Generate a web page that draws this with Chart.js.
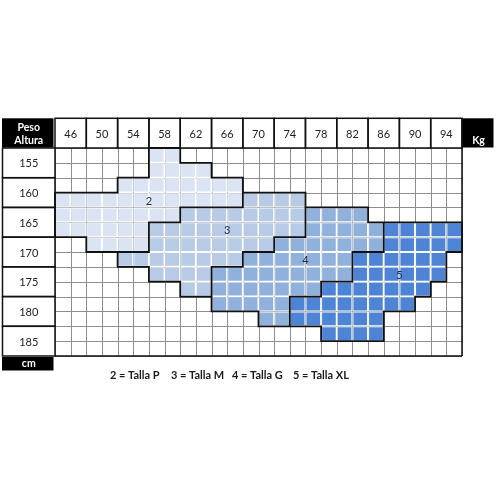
<!DOCTYPE html>
<html><head><meta charset="utf-8">
<script src="https://cdn.jsdelivr.net/npm/chart.js@4.4.0/dist/chart.umd.min.js"></script>
<style>html,body{margin:0;padding:0;background:#fff;}#wrap{width:496px;height:496px;position:relative;}</style>
</head><body><div id="wrap"><canvas id="c"></canvas></div>
<script>
// ---- data ----
const weightTicks = [46, 50, 54, 58, 62, 66, 70, 74, 78, 82, 86, 90, 94];
const heightTicks = [155, 160, 165, 170, 175, 180, 185];
const weightUnit = 'Kg';
const heightUnit = 'cm';
const cornerLabels = ['Peso', 'Altura'];
const legendItems = ['2 = Talla P', '3 = Talla M', '4 = Talla G', '5 = Talla XL'];
// size code per half-step cell (rows: height half-steps top→bottom, cols: weight half-steps left→right)
const sizeGrid = [
  "000000" + "22" + "000000000000000000",
  "000000" + "2222" + "0000000000000000",
  "0000" + "22222222" + "00000000000000",
  "222222222222" + "3333" + "0000000000",
  "22222222" + "33333333" + "4444" + "000000",
  "222222" + "3333333333" + "44444" + "55555",
  "00" + "2222" + "33333333" + "4444444" + "55555",
  "0000" + "33333333" + "4444444" + "555555" + "0",
  "000000" + "3333" + "444444444" + "555555" + "0",
  "00000000" + "33" + "4444444" + "5555555" + "00",
  "0000000000" + "44444" + "55555555" + "000",
  "0000000000000" + "44" + "555555" + "00000",
  "00000000000000000" + "5555" + "00000",
  "00000000000000000000000000"
];
const sizeCodes = ['2', '3', '4', '5'];
const sizeColors = ['#dae4f2', '#b7cbe6', '#91b1dd', '#4e84d5'];
const labelAnchors = [[6, 3.5], [11, 5.5], [16, 7.5], [22, 8.5]]; // in grid units

const colorOf = c => { const i = sizeCodes.indexOf(c); return i < 0 ? 'rgba(0,0,0,0)' : sizeColors[i]; };

const datasets = sizeGrid.map((row, r) => ({
  label: 'row' + r,
  data: row.split('').map((c, j) => ({ x: j + 0.5, y: 1 })),
  backgroundColor: row.split('').map(colorOf),
  borderColor: row.split('').map(c => c === '0' ? 'rgba(0,0,0,0)' : '#ffffff'),
  borderWidth: 1,
  borderSkipped: false,
  inflateAmount: 0,
  barPercentage: 1,
  categoryPercentage: 1
}));

const FONT = 'Lato, "Open Sans", sans-serif';

const tablePlugin = {
  id: 'tablePlugin',
  beforeDatasetsDraw(chart) {
    const { ctx, chartArea: a, scales: { x, y } } = chart;
    ctx.save();
    ctx.strokeStyle = '#8e8e8e';
    ctx.lineWidth = 1;
    ctx.beginPath();
    for (let j = 0; j <= 26; j++) {
      const px = Math.round(x.getPixelForValue(j)) + 0.5;
      ctx.moveTo(px, a.top); ctx.lineTo(px, a.bottom);
    }
    for (let i = 0; i <= 14; i++) {
      const py = Math.round(y.getPixelForValue(i)) + 0.5;
      ctx.moveTo(a.left, py); ctx.lineTo(a.right, py);
    }
    ctx.stroke();
    ctx.restore();
  },
  afterDatasetsDraw(chart) {
    const { ctx, chartArea: a, scales: { x, y } } = chart;
    const rows = sizeGrid.length, cols = sizeGrid[0].length;
    const code = (r, j) => (r < 0 || r >= rows || j < 0 || j >= cols) ? '0' : sizeGrid[r][j];
    ctx.save();
    // region outlines
    ctx.strokeStyle = '#111';
    ctx.lineWidth = 1.8;
    ctx.lineCap = 'square';
    ctx.beginPath();
    for (let r = 0; r < rows; r++) {
      for (let j = 0; j < cols; j++) {
        const c = code(r, j);
        if (c === '0') continue;
        const x0 = x.getPixelForValue(j), x1 = x.getPixelForValue(j + 1);
        const y0 = y.getPixelForValue(r), y1 = y.getPixelForValue(r + 1);
        if (code(r - 1, j) !== c) { ctx.moveTo(x0, y0); ctx.lineTo(x1, y0); }
        if (code(r + 1, j) !== c) { ctx.moveTo(x0, y1); ctx.lineTo(x1, y1); }
        if (code(r, j - 1) !== c) { ctx.moveTo(x0, y0); ctx.lineTo(x0, y1); }
        if (code(r, j + 1) !== c) { ctx.moveTo(x1, y0); ctx.lineTo(x1, y1); }
      }
    }
    ctx.stroke();

    // outer border right / bottom
    const hTop = y.getPixelForValue(-2);
    ctx.lineCap = 'butt';
    ctx.lineWidth = 1.5;
    ctx.strokeStyle = '#111';
    ctx.beginPath();
    ctx.moveTo(a.right, hTop); ctx.lineTo(a.right, a.bottom);
    ctx.moveTo(a.left, a.bottom); ctx.lineTo(a.right, a.bottom);
    ctx.stroke();

    // header cells
    ctx.font = '11px ' + FONT;
    ctx.textAlign = 'center';
    ctx.textBaseline = 'middle';
    weightTicks.forEach((w, k) => {
      const x0 = x.getPixelForValue(2 * k), x1 = x.getPixelForValue(2 * k + 2);
      ctx.strokeRect(x0, hTop, x1 - x0, a.top - hTop);
      ctx.fillStyle = '#222';
      ctx.fillText(String(w), (x0 + x1) / 2, (hTop + a.top) / 2 + 1);
    });
    // row label cells
    const lx0 = 2.5;
    heightTicks.forEach((h, k) => {
      const y0 = y.getPixelForValue(2 * k), y1 = y.getPixelForValue(2 * k + 2);
      ctx.strokeRect(lx0, y0, a.left - lx0, y1 - y0);
      ctx.fillStyle = '#222';
      ctx.fillText(String(h), (lx0 + a.left) / 2, (y0 + y1) / 2 + 1);
    });
    // corner cell
    ctx.fillStyle = '#000';
    ctx.fillRect(lx0 - 0.5, hTop, a.left - lx0 - 1, a.top - hTop - 0.5);
    ctx.fillStyle = '#fff';
    ctx.font = 'bold 10.5px ' + FONT;
    const cx = (lx0 + a.left) / 2;
    ctx.fillText(cornerLabels[0], cx, hTop + 9);
    ctx.fillText(cornerLabels[1], cx, hTop + 22);
    // Kg box
    ctx.fillStyle = '#000';
    ctx.fillRect(a.right + 0.5, hTop, 493 - a.right, a.top - hTop - 0.5);
    ctx.fillStyle = '#fff';
    ctx.fillText(weightUnit, (a.right + 493) / 2 + 1, a.top - 7);
    // cm box
    ctx.fillStyle = '#000';
    ctx.fillRect(lx0 - 0.5, a.bottom + 1, a.left - lx0 - 1, 13.5);
    ctx.fillStyle = '#fff';
    ctx.fillText(heightUnit, cx, a.bottom + 7.5);

    // region labels
    ctx.font = '11px ' + FONT;
    ctx.fillStyle = '#1d2a44';
    labelAnchors.forEach((p, i) => {
      ctx.fillText(sizeCodes[i], x.getPixelForValue(p[0]), y.getPixelForValue(p[1]) + 1);
    });

    // legend
    ctx.font = 'bold 11px ' + FONT;
    ctx.fillStyle = '#1a1a1a';
    ctx.textAlign = 'left';
    const lxStart = [110, 171, 232, 293];
    legendItems.forEach((t, i) => ctx.fillText(t, lxStart[i], a.bottom + 19));
    ctx.restore();
  }
};

new Chart(document.getElementById('c'), {
  type: 'bar',
  data: { datasets },
  options: {
    animation: false,
    responsive: true,
    maintainAspectRatio: false,
    layout: { padding: { left: 55, top: 148, right: 34, bottom: 140 } },
    plugins: { legend: { display: false }, tooltip: { enabled: false } },
    scales: {
      x: { type: 'linear', min: 0, max: 26, offset: false, stacked: true, display: false },
      y: { type: 'linear', min: 0, max: 14, reverse: true, stacked: true, display: false }
    }
  },
  plugins: [tablePlugin]
});
</script>
</body></html>
